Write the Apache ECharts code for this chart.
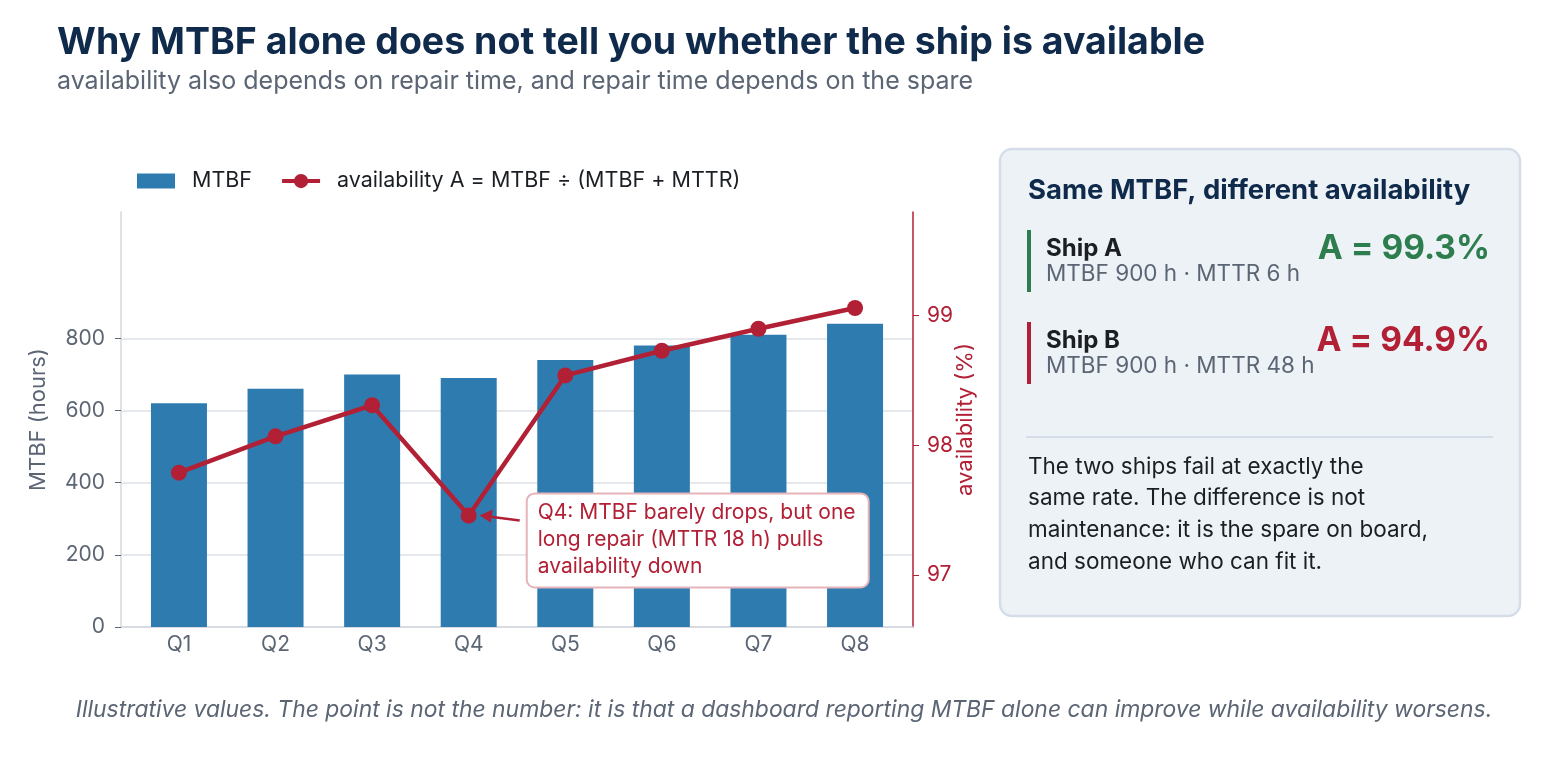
<!DOCTYPE html>
<html>
<head>
<meta charset="utf-8">
<script src="https://cdn.jsdelivr.net/npm/echarts@6/dist/echarts.min.js"></script>
<style>
  html, body { margin: 0; padding: 0; background: #fff; }
  #chart { width: 1568px; height: 760px; }
</style>
</head>
<body>
<div id="chart"></div>
<script>
// data
const quarters = ['Q1', 'Q2', 'Q3', 'Q4', 'Q5', 'Q6', 'Q7', 'Q8'];
const mtbf = [620, 660, 700, 690, 740, 780, 810, 840];
const availability = [97.79, 98.07, 98.31, 97.46, 98.54, 98.73, 98.90, 99.06];
const mtbfTicks = [0, 200, 400, 600, 800];
const availTicks = [97, 98, 99];
const quarterIdx = [0, 1, 2, 3, 4, 5, 6, 7];

const FONT = 'Inter, "Noto Sans", sans-serif';
const NAVY = '#0f2a4a';
const GRAY = '#5b6574';
const BLUE = '#2e7bb0';
const RED = '#b22036';
const GREEN = '#2e7d4e';
const DARK = '#1b1f24';

// legend icon for the line: thick stroke with a dot in the middle
const lineIcon = 'path://M0,5.5 L40,5.5 L40,9.5 L0,9.5 Z M20,0 A7,7 0 1,1 20,15 A7,7 0 1,1 20,0 Z';

const chart = echarts.init(document.getElementById('chart'));

const option = {
  animation: false,
  textStyle: { fontFamily: FONT },
  title: [
    {
      text: 'Why MTBF alone does not tell you whether the ship is available',
      subtext: 'availability also depends on repair time, and repair time depends on the spare',
      left: 52, top: 19,
      itemGap: 7,
      textStyle: { fontFamily: FONT, fontSize: 37.5, fontWeight: 'bold', color: NAVY },
      subtextStyle: { fontFamily: FONT, fontSize: 25, color: GRAY }
    },
    {
      text: 'Illustrative values. The point is not the number: it is that a dashboard reporting MTBF alone can improve while availability worsens.',
      left: 'center', top: 694,
      textStyle: { fontFamily: FONT, fontSize: 22.9, fontStyle: 'italic', fontWeight: 'normal', color: GRAY }
    }
  ],
  legend: {
    left: 132, top: 165,
    itemWidth: 38, itemHeight: 15, itemGap: 30,
    textStyle: { fontFamily: FONT, fontSize: 21.5, color: DARK, padding: [0, 0, 0, 12] },
    data: [
      { name: 'MTBF', icon: 'rect' },
      { name: 'availability A = MTBF ÷ (MTBF + MTTR)', icon: lineIcon }
    ]
  },
  grid: { left: 121, right: 655, top: 212, bottom: 133 },
  xAxis: {
    type: 'value',
    min: -0.6, max: 7.6,
    axisLine: { show: true, onZero: false, lineStyle: { color: '#d3d8de', width: 1.5 } },
    axisTick: { show: false },
    splitLine: { show: false },
    axisLabel: {
      customValues: quarterIdx,
      formatter: v => quarters[Math.round(v)],
      fontSize: 21, color: GRAY, margin: 7
    }
  },
  yAxis: [
    {
      type: 'value',
      min: 0, max: 1150,
      name: 'MTBF (hours)',
      nameLocation: 'middle', nameGap: 72,
      nameMoveOverlap: false,
      nameTextStyle: { fontFamily: FONT, fontSize: 22, color: GRAY },
      axisLine: { show: true, onZero: false, lineStyle: { color: '#d3d8de', width: 1.5 } },
      axisTick: { show: true, customValues: mtbfTicks, length: 6, lineStyle: { color: GRAY } },
      axisLabel: { customValues: mtbfTicks, fontSize: 21, color: GRAY, margin: 16 },
      splitLine: { show: true, lineStyle: { color: '#dde1e6', width: 1.5 } }
    },
    {
      type: 'value',
      position: 'right',
      min: 96.6, max: 99.8,
      name: 'availability (%)',
      nameLocation: 'middle', nameGap: 41,
      nameMoveOverlap: false,
      nameTextStyle: { fontFamily: FONT, fontSize: 22, color: RED },
      axisLine: { show: true, onZero: false, lineStyle: { color: RED, width: 1.5 } },
      axisTick: { show: true, customValues: availTicks, length: 6, lineStyle: { color: RED } },
      axisLabel: { customValues: availTicks, fontSize: 21, color: RED, margin: 14 },
      splitLine: { show: false }
    }
  ],
  series: [
    {
      name: 'MTBF',
      type: 'bar',
      barWidth: 56,
      itemStyle: { color: BLUE },
      data: mtbf.map((v, i) => [quarterIdx[i], v]),
      z: 2
    },
    {
      name: 'availability A = MTBF ÷ (MTBF + MTTR)',
      type: 'line',
      yAxisIndex: 1,
      symbol: 'circle',
      symbolSize: 16,
      lineStyle: { color: RED, width: 4.5 },
      itemStyle: { color: RED },
      data: availability.map((v, i) => [quarterIdx[i], v]),
      z: 3
    }
  ]
};

chart.setOption(option);

// annotation anchored on the Q4 point, plus the side panel
const p4 = chart.convertToPixel({ seriesIndex: 1 }, [quarterIdx[3], availability[3]]);
const boxX = p4[0] + 58, boxY = p4[1] - 22;
const panelX = 1000, panelY = 149;

chart.setOption({
  graphic: [
    // arrow to Q4
    {
      type: 'line', z: 10,
      shape: { x1: boxX - 7, y1: boxY + 27, x2: p4[0] + 20, y2: p4[1] + 1 },
      style: { stroke: RED, lineWidth: 2.5 }
    },
    {
      type: 'polygon', z: 10,
      shape: { points: [[p4[0] + 11, p4[1]], [p4[0] + 24, p4[1] - 6], [p4[0] + 22, p4[1] + 7]] },
      style: { fill: RED }
    },
    {
      type: 'rect', z: 10,
      shape: { x: boxX, y: boxY, width: 342, height: 94, r: 8 },
      style: { fill: '#ffffff', stroke: '#e6b3ba', lineWidth: 2 }
    },
    {
      type: 'text', z: 11,
      x: boxX + 11, y: boxY + 6,
      style: {
        text: 'Q4: MTBF barely drops, but one\nlong repair (MTTR 18 h) pulls\navailability down',
        font: '21px ' + FONT, fill: RED, lineHeight: 27
      }
    },
    // side panel
    {
      type: 'rect',
      shape: { x: panelX, y: panelY, width: 520, height: 467, r: 12 },
      style: { fill: '#edf2f7', stroke: '#d5dee8', lineWidth: 2.5 }
    },
    {
      type: 'text', x: panelX + 28, y: panelY + 42,
      style: { text: 'Same MTBF, different availability', font: 'bold 27.5px ' + FONT, fill: NAVY, verticalAlign: 'middle' }
    },
    // ship A
    { type: 'rect', shape: { x: panelX + 27, y: panelY + 81, width: 4, height: 62 }, style: { fill: GREEN } },
    {
      type: 'text', x: panelX + 46, y: panelY + 100,
      style: { text: 'Ship A', font: 'bold 24px ' + FONT, fill: DARK, verticalAlign: 'middle' }
    },
    {
      type: 'text', x: panelX + 46, y: panelY + 125,
      style: { text: 'MTBF 900 h · MTTR 6 h', font: '22.5px ' + FONT, fill: GRAY, verticalAlign: 'middle' }
    },
    {
      type: 'text', x: panelX + 490, y: panelY + 100,
      style: { text: 'A = 99.3%', font: 'bold 33.5px ' + FONT, fill: GREEN, align: 'right', verticalAlign: 'middle' }
    },
    // ship B
    { type: 'rect', shape: { x: panelX + 27, y: panelY + 173, width: 4, height: 62 }, style: { fill: RED } },
    {
      type: 'text', x: panelX + 46, y: panelY + 192,
      style: { text: 'Ship B', font: 'bold 24px ' + FONT, fill: DARK, verticalAlign: 'middle' }
    },
    {
      type: 'text', x: panelX + 46, y: panelY + 217,
      style: { text: 'MTBF 900 h · MTTR 48 h', font: '22.5px ' + FONT, fill: GRAY, verticalAlign: 'middle' }
    },
    {
      type: 'text', x: panelX + 490, y: panelY + 192,
      style: { text: 'A = 94.9%', font: 'bold 33.5px ' + FONT, fill: RED, align: 'right', verticalAlign: 'middle' }
    },
    // divider
    {
      type: 'line',
      shape: { x1: panelX + 26, y1: panelY + 288, x2: panelX + 493, y2: panelY + 288 },
      style: { stroke: '#d5dee8', lineWidth: 2 }
    },
    {
      type: 'text', x: panelX + 28, y: panelY + 302,
      style: {
        text: 'The two ships fail at exactly the\nsame rate. The difference is not\nmaintenance: it is the spare on board,\nand someone who can fit it.',
        font: '22.5px ' + FONT, fill: DARK, lineHeight: 31.7
      }
    }
  ]
});
</script>
</body>
</html>
